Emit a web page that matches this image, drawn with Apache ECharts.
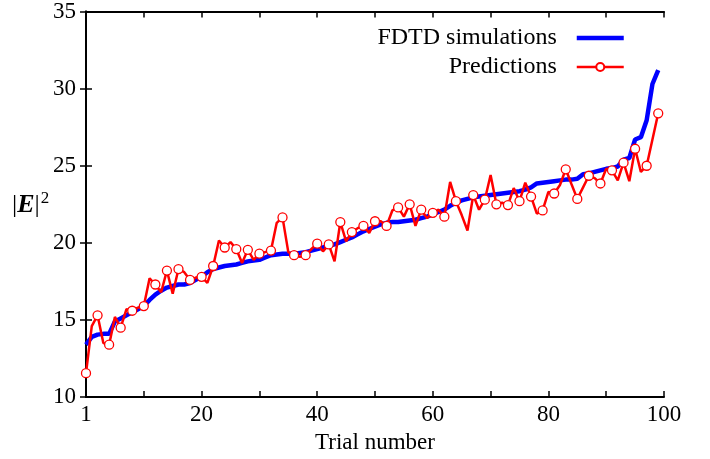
<!DOCTYPE html>
<html>
<head>
<meta charset="utf-8">
<script src="https://cdn.jsdelivr.net/npm/echarts@6/dist/echarts.min.js"></script>
<style>
  html, body { margin: 0; padding: 0; background: #fff; }
  #chart { width: 710px; height: 459px; }
</style>
</head>
<body>
<div id="chart"></div>
<script>
// FDTD reference values, trials 1..100 (plotted at x = 0..99)
const fdtd = [
  13.4, 13.9, 14.05, 14.1, 14.1, 14.9, 15.1, 15.3, 15.5, 15.7,
  15.9, 16.3, 16.65, 16.9, 17.1, 17.2, 17.3, 17.3, 17.4, 17.6,
  17.8, 18.1, 18.3, 18.4, 18.5, 18.55, 18.6, 18.7, 18.8, 18.85,
  18.9, 19.05, 19.2, 19.25, 19.3, 19.3, 19.3, 19.35, 19.4, 19.5,
  19.6, 19.7, 19.8, 19.9, 20.05, 20.2, 20.35, 20.55, 20.75, 20.9,
  21.05, 21.2, 21.3, 21.35, 21.35, 21.4, 21.45, 21.5, 21.6, 21.7,
  21.85, 22.0, 22.15, 22.4, 22.6, 22.75, 22.85, 22.95, 23.0, 23.05,
  23.1, 23.15, 23.2, 23.25, 23.3, 23.35, 23.45, 23.6, 23.85, 23.9,
  23.95, 24.0, 24.05, 24.1, 24.1, 24.15, 24.45, 24.5, 24.6, 24.7,
  24.8, 24.85, 24.95, 25.4, 25.5, 26.7, 26.85, 27.95, 30.3, 31.2
];

// predicted values
const predicted = [
  11.55, 14.6, 15.3, 13.5, 13.4, 15.2, 14.5, 15.7, 15.6, 15.8,
  15.9, 17.7, 17.3, 16.8, 18.2, 16.7, 18.3, 18.1, 17.6, 17.75,
  17.8, 17.4, 18.5, 20.15, 19.7, 20.05, 19.6, 18.7, 19.55, 18.9,
  19.3, 19.4, 19.5, 21.3, 21.65, 19.4, 19.2, 19.1, 19.2, 19.6,
  19.95, 19.45, 19.9, 18.8, 21.35, 20.1, 20.7, 20.95, 21.1, 20.65,
  21.4, 21.4, 21.1, 22.1, 22.3, 21.7, 22.5, 21.1, 22.15, 21.6,
  21.95, 22.15, 21.7, 23.95, 22.7, 21.8, 20.8, 23.1, 22.15, 22.8,
  24.4, 22.5, 22.6, 22.45, 23.55, 22.7, 23.9, 23.0, 21.9, 22.1,
  23.3, 23.2, 23.75, 24.77, 23.8, 22.85, 23.6, 24.35, 24.2, 23.85,
  24.8, 24.7, 24.05, 25.2, 24.0, 26.1, 24.6, 25.0, 26.7, 28.4
];

// points of the prediction curve that carry a circle marker
const markedPoints = [
  0, 2, 4, 6, 8, 10, 12, 14, 16, 18, 20, 22, 24, 26, 28, 30, 32,
  34, 36, 38, 40, 42, 44, 46, 48, 50, 52, 54, 56, 58, 60, 62, 64,
  67, 69, 71, 73, 75, 77, 79, 81, 83, 85, 87, 89, 91, 93, 95, 97, 99
];

const xTicks = [0, 20, 40, 60, 80, 100];
const xTickLabels = ['1', '20', '40', '60', '80', '100'];

const font = 'Liberation Serif';
const chart = echarts.init(document.getElementById('chart'));

const boxAxis = {
  axisLine: { show: true, lineStyle: { color: '#000', width: 2 } },
  axisTick: { show: true, inside: true, length: 6, lineStyle: { color: '#000', width: 1.5 } },
  splitLine: { show: false }
};

const option = {
  backgroundColor: '#fff',
  animation: false,
  textStyle: { fontFamily: font },
  grid: { left: 86, right: 46, top: 11, bottom: 61 },
  legend: {
    orient: 'vertical',
    right: 79,
    top: 21,
    align: 'right',
    itemWidth: 47,
    itemHeight: 10,
    itemGap: 5,
    textStyle: { fontFamily: font, fontSize: 24, color: '#000', padding: [0, 15, 0, 0] },
    data: [
      { name: 'FDTD simulations',
        itemStyle: { color: 'rgba(0,0,0,0)', borderColor: 'rgba(0,0,0,0)', borderWidth: 0 },
        lineStyle: { color: '#0000ff', width: 4.5 } },
      { name: 'Predictions', lineStyle: { color: '#ff0000', width: 2.5 } }
    ]
  },
  xAxis: [
    Object.assign({}, boxAxis, {
      type: 'value', min: 0, max: 100, interval: 10,
      name: 'Trial number', nameLocation: 'middle', nameGap: 30,
      nameTextStyle: { fontFamily: font, fontSize: 23, color: '#000' },
      axisLabel: {
        fontFamily: font, fontSize: 23, color: '#000', margin: 6,
        formatter: function (v) {
          const k = xTicks.indexOf(v);
          return k >= 0 ? xTickLabels[k] : '';
        }
      }
    }),
    Object.assign({}, boxAxis, {
      type: 'value', min: 0, max: 100, interval: 10, position: 'top',
      axisLabel: { show: false }
    })
  ],
  yAxis: [
    Object.assign({}, boxAxis, {
      type: 'value', min: 10, max: 35, interval: 5,
      axisLabel: { fontFamily: font, fontSize: 23, color: '#000', margin: 10 }
    }),
    Object.assign({}, boxAxis, {
      type: 'value', min: 10, max: 35, interval: 5, position: 'right',
      axisLabel: { show: false }
    })
  ],
  graphic: [{
    type: 'text',
    left: 12,
    top: 190,
    style: {
      text: '{n||}{b|E}{n||}{s|2}',
      rich: {
        n: { fontFamily: font, fontSize: 26, fill: '#000' },
        b: { fontFamily: font, fontSize: 26, fontWeight: 'bold', fontStyle: 'italic', fill: '#000' },
        s: { fontFamily: font, fontSize: 17, fill: '#000', padding: [0, 0, 13, 1] }
      }
    }
  }],
  series: [
    {
      name: 'FDTD simulations',
      type: 'line',
      showSymbol: false,
      symbol: 'none',
      lineStyle: { color: '#0000ff', width: 4.5 },
      itemStyle: { color: '#0000ff' },
      data: fdtd.map((v, i) => [i, v]),
      z: 2
    },
    {
      name: 'Predictions',
      type: 'line',
      symbol: 'circle',
      showAllSymbol: true,
      symbolSize: function (val, p) {
        return markedPoints.indexOf(p.dataIndex) >= 0 ? 9 : 0;
      },
      lineStyle: { color: '#ff0000', width: 2.5 },
      itemStyle: { color: '#fff', borderColor: '#ff0000', borderWidth: 1.3 },
      data: predicted.map((v, i) => [i, v]),
      z: 3
    }
  ]
};

chart.setOption(option);
</script>
</body>
</html>
